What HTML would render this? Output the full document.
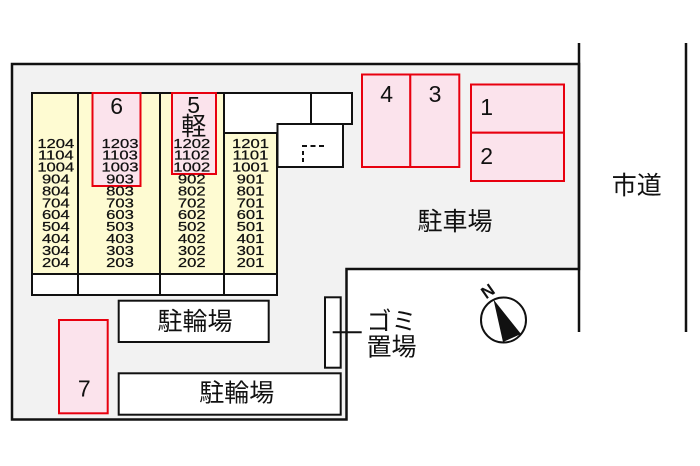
<!DOCTYPE html>
<html><head><meta charset="utf-8"><style>
html,body{margin:0;padding:0;background:#fff;}
svg{display:block;}
text{font-family:"Liberation Sans","Noto Sans CJK JP",sans-serif;fill:#111;}
</style></head><body>
<svg width="700" height="466" viewBox="0 0 700 466" xmlns="http://www.w3.org/2000/svg">
<!-- lot -->
<path d="M12,64 H579 V269 H346.5 V419.5 H12 Z" fill="#f2f2f2" stroke="#111" stroke-width="2.5"/>
<line x1="579" y1="43" x2="579" y2="332" stroke="#111" stroke-width="2.5"/>
<line x1="686" y1="43" x2="686" y2="332" stroke="#111" stroke-width="2.5"/>

<!-- building columns -->
<g stroke="#111" stroke-width="2">
<rect x="32" y="93" width="46" height="181" fill="#fefbd2"/>
<rect x="78" y="93" width="82" height="181" fill="#fefbd2"/>
<rect x="160" y="93" width="64" height="181" fill="#fefbd2"/>
<rect x="224" y="133" width="53" height="141" fill="#fefbd2"/>
<rect x="224" y="93" width="87" height="40" fill="#fff"/>
<rect x="311" y="93" width="41" height="31" fill="#fff"/>
<rect x="277.5" y="124" width="65.5" height="43" fill="#fff"/>
<rect x="32" y="274" width="46" height="21" fill="#fff"/>
<rect x="78" y="274" width="82" height="21" fill="#fff"/>
<rect x="160" y="274" width="64" height="21" fill="#fff"/>
<rect x="224" y="274" width="53" height="21" fill="#fff"/>
</g>
<line x1="302" y1="146" x2="325" y2="146" stroke="#111" stroke-width="2" stroke-dasharray="5,3.5"/>
<line x1="303" y1="151" x2="303" y2="164" stroke="#111" stroke-width="2" stroke-dasharray="4,3"/>

<!-- red boxes in building -->
<g stroke="#e8000f" stroke-width="2" fill="#fbe3ec">
<rect x="92.5" y="93" width="48" height="93"/>
<rect x="172" y="93" width="44" height="81"/>
</g>
<text x="116.7" y="106" font-size="23" text-anchor="middle" dominant-baseline="central">6</text>
<text x="193.7" y="105" font-size="23" text-anchor="middle" dominant-baseline="central">5</text>
<text x="193.7" y="127" font-size="25" text-anchor="middle" dominant-baseline="central">軽</text>

<!-- room numbers -->
<g font-size="13.3" text-anchor="middle" dominant-baseline="central" stroke="#111" stroke-width="0.25">
<g transform="translate(55.8,0) scale(1.25,1)">
<text x="0" y="143.8">1204</text><text x="0" y="155.7">1104</text><text x="0" y="167.6">1004</text><text x="0" y="179.5">904</text><text x="0" y="191.4">804</text><text x="0" y="203.3">704</text><text x="0" y="215.2">604</text><text x="0" y="227.1">504</text><text x="0" y="239">404</text><text x="0" y="250.9">304</text><text x="0" y="262.8">204</text>
</g>
<g transform="translate(120,0) scale(1.25,1)">
<text x="0" y="143.8">1203</text><text x="0" y="155.7">1103</text><text x="0" y="167.6">1003</text><text x="0" y="179.5">903</text><text x="0" y="191.4">803</text><text x="0" y="203.3">703</text><text x="0" y="215.2">603</text><text x="0" y="227.1">503</text><text x="0" y="239">403</text><text x="0" y="250.9">303</text><text x="0" y="262.8">203</text>
</g>
<g transform="translate(191.7,0) scale(1.25,1)">
<text x="0" y="143.8">1202</text><text x="0" y="155.7">1102</text><text x="0" y="167.6">1002</text><text x="0" y="179.5">902</text><text x="0" y="191.4">802</text><text x="0" y="203.3">702</text><text x="0" y="215.2">602</text><text x="0" y="227.1">502</text><text x="0" y="239">402</text><text x="0" y="250.9">302</text><text x="0" y="262.8">202</text>
</g>
<g transform="translate(250.5,0) scale(1.25,1)">
<text x="0" y="143.8">1201</text><text x="0" y="155.7">1101</text><text x="0" y="167.6">1001</text><text x="0" y="179.5">901</text><text x="0" y="191.4">801</text><text x="0" y="203.3">701</text><text x="0" y="215.2">601</text><text x="0" y="227.1">501</text><text x="0" y="239">401</text><text x="0" y="250.9">301</text><text x="0" y="262.8">201</text>
</g>
</g>

<!-- parking 4,3,1,2,7 -->
<g stroke="#e8000f" stroke-width="2" fill="#fbe3ec">
<rect x="362" y="74.5" width="48.3" height="92.5"/>
<rect x="410.3" y="74.5" width="49" height="92.5"/>
<rect x="471" y="84.5" width="93" height="48.2"/>
<rect x="471" y="132.7" width="93" height="48.3"/>
<rect x="59" y="320" width="48.7" height="93.3"/>
</g>
<g font-size="23" text-anchor="middle" dominant-baseline="central">
<text x="386.7" y="94">4</text>
<text x="435" y="94">3</text>
<text x="486.7" y="107">1</text>
<text x="486.7" y="156">2</text>
<text x="84.3" y="388.5">7</text>
</g>

<!-- bicycle parking and gomi -->
<g stroke="#111" stroke-width="2" fill="#fff">
<rect x="118.7" y="300.7" width="150" height="41.3"/>
<rect x="118.7" y="373.3" width="222" height="41.4"/>
<rect x="325" y="297.3" width="15.7" height="70.4"/>
</g>
<line x1="332.7" y1="332.3" x2="361.7" y2="332.3" stroke="#111" stroke-width="2"/>

<g font-size="25" text-anchor="middle" dominant-baseline="central">
<text x="195" y="322">駐輪場</text>
<text x="236.7" y="393.5">駐輪場</text>
<text x="391.5" y="322">ゴミ</text>
<text x="391.5" y="347.5">置場</text>
<text x="455" y="222">駐車場</text>
<text x="636.7" y="186">市道</text>
</g>

<!-- compass -->
<circle cx="503.5" cy="320" r="22.5" fill="#fff" stroke="#111" stroke-width="2"/>
<polygon points="493.5,299.5 521,334 503,342" fill="#111"/>
<text x="488" y="291.5" font-size="17" font-weight="bold" text-anchor="middle" dominant-baseline="central" transform="rotate(-35 488 291.5)">N</text>
</svg>
</body></html>
